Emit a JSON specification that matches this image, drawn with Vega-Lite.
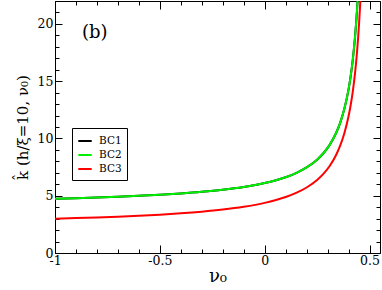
{
  "$schema": "https://vega.github.io/schema/vega-lite/v6.json",
  "width": 325,
  "height": 252,
  "autosize": "none",
  "padding": {"left": 55, "top": 1, "right": 2, "bottom": 37},
  "background": "white",
  "config": {
    "view": {"stroke": "black", "strokeWidth": 1},
    "font": "DejaVu Serif",
    "axis": {"grid": false, "domainColor": "black", "tickColor": "black", "labelColor": "black", "titleColor": "black", "labelFont": "DejaVu Serif", "titleFont": "DejaVu Serif", "titleFontWeight": "normal"}
  },
  "datasets": {
    "curves": [
      {"nu": -1, "k": 4.74, "bc": "BC1"}, {"nu": -0.9, "k": 4.789, "bc": "BC1"}, {"nu": -0.8, "k": 4.845, "bc": "BC1"}, {"nu": -0.7, "k": 4.911, "bc": "BC1"}, {"nu": -0.6, "k": 4.988, "bc": "BC1"}, {"nu": -0.5, "k": 5.081, "bc": "BC1"}, {"nu": -0.4, "k": 5.195, "bc": "BC1"}, {"nu": -0.3, "k": 5.337, "bc": "BC1"}, {"nu": -0.2, "k": 5.519, "bc": "BC1"}, {"nu": -0.1, "k": 5.763, "bc": "BC1"}, {"nu": 0, "k": 6.104, "bc": "BC1"}, {"nu": 0.05, "k": 6.331, "bc": "BC1"}, {"nu": 0.1, "k": 6.616, "bc": "BC1"}, {"nu": 0.15, "k": 6.981, "bc": "BC1"}, {"nu": 0.2, "k": 7.468, "bc": "BC1"}, {"nu": 0.25, "k": 8.15, "bc": "BC1"}, {"nu": 0.28, "k": 8.708, "bc": "BC1"}, {"nu": 0.31, "k": 9.442, "bc": "BC1"}, {"nu": 0.34, "k": 10.452, "bc": "BC1"}, {"nu": 0.36, "k": 11.365, "bc": "BC1"}, {"nu": 0.38, "k": 12.583, "bc": "BC1"}, {"nu": 0.4, "k": 14.288, "bc": "BC1"}, {"nu": 0.41, "k": 15.425, "bc": "BC1"}, {"nu": 0.42, "k": 16.846, "bc": "BC1"}, {"nu": 0.43, "k": 18.672, "bc": "BC1"}, {"nu": 0.44, "k": 21.108, "bc": "BC1"}, {"nu": 0.45, "k": 24.518, "bc": "BC1"}, {"nu": 0.46, "k": 29.633, "bc": "BC1"},
      {"nu": -1, "k": 4.74, "bc": "BC2"}, {"nu": -0.9, "k": 4.789, "bc": "BC2"}, {"nu": -0.8, "k": 4.845, "bc": "BC2"}, {"nu": -0.7, "k": 4.911, "bc": "BC2"}, {"nu": -0.6, "k": 4.988, "bc": "BC2"}, {"nu": -0.5, "k": 5.081, "bc": "BC2"}, {"nu": -0.4, "k": 5.195, "bc": "BC2"}, {"nu": -0.3, "k": 5.337, "bc": "BC2"}, {"nu": -0.2, "k": 5.519, "bc": "BC2"}, {"nu": -0.1, "k": 5.763, "bc": "BC2"}, {"nu": 0, "k": 6.104, "bc": "BC2"}, {"nu": 0.05, "k": 6.331, "bc": "BC2"}, {"nu": 0.1, "k": 6.616, "bc": "BC2"}, {"nu": 0.15, "k": 6.981, "bc": "BC2"}, {"nu": 0.2, "k": 7.468, "bc": "BC2"}, {"nu": 0.25, "k": 8.15, "bc": "BC2"}, {"nu": 0.28, "k": 8.708, "bc": "BC2"}, {"nu": 0.31, "k": 9.442, "bc": "BC2"}, {"nu": 0.34, "k": 10.452, "bc": "BC2"}, {"nu": 0.36, "k": 11.365, "bc": "BC2"}, {"nu": 0.38, "k": 12.583, "bc": "BC2"}, {"nu": 0.4, "k": 14.288, "bc": "BC2"}, {"nu": 0.41, "k": 15.425, "bc": "BC2"}, {"nu": 0.42, "k": 16.846, "bc": "BC2"}, {"nu": 0.43, "k": 18.672, "bc": "BC2"}, {"nu": 0.44, "k": 21.108, "bc": "BC2"}, {"nu": 0.45, "k": 24.518, "bc": "BC2"}, {"nu": 0.46, "k": 29.633, "bc": "BC2"},
      {"nu": -1, "k": 3.0, "bc": "BC3"}, {"nu": -0.9, "k": 3.05, "bc": "BC3"}, {"nu": -0.8, "k": 3.107, "bc": "BC3"}, {"nu": -0.7, "k": 3.174, "bc": "BC3"}, {"nu": -0.6, "k": 3.253, "bc": "BC3"}, {"nu": -0.5, "k": 3.348, "bc": "BC3"}, {"nu": -0.4, "k": 3.463, "bc": "BC3"}, {"nu": -0.3, "k": 3.607, "bc": "BC3"}, {"nu": -0.2, "k": 3.791, "bc": "BC3"}, {"nu": -0.1, "k": 4.036, "bc": "BC3"}, {"nu": 0, "k": 4.376, "bc": "BC3"}, {"nu": 0.05, "k": 4.602, "bc": "BC3"}, {"nu": 0.1, "k": 4.883, "bc": "BC3"}, {"nu": 0.15, "k": 5.242, "bc": "BC3"}, {"nu": 0.2, "k": 5.717, "bc": "BC3"}, {"nu": 0.25, "k": 6.375, "bc": "BC3"}, {"nu": 0.28, "k": 6.907, "bc": "BC3"}, {"nu": 0.31, "k": 7.598, "bc": "BC3"}, {"nu": 0.34, "k": 8.533, "bc": "BC3"}, {"nu": 0.36, "k": 9.365, "bc": "BC3"}, {"nu": 0.38, "k": 10.452, "bc": "BC3"}, {"nu": 0.4, "k": 11.934, "bc": "BC3"}, {"nu": 0.41, "k": 12.898, "bc": "BC3"}, {"nu": 0.42, "k": 14.076, "bc": "BC3"}, {"nu": 0.43, "k": 15.548, "bc": "BC3"}, {"nu": 0.44, "k": 17.441, "bc": "BC3"}, {"nu": 0.45, "k": 19.965, "bc": "BC3"}, {"nu": 0.46, "k": 23.498, "bc": "BC3"}, {"nu": 0.47, "k": 28.8, "bc": "BC3"}
    ],
    "label": [{"nu": -0.81, "k": 19.2, "text": "(b)"}]
  },
  "resolve": {"axis": {"x": "independent", "y": "independent"}},
  "layer": [
    {
      "data": {"name": "curves"},
      "mark": {"type": "line", "strokeWidth": 2, "clip": true, "interpolate": "monotone"},
      "encoding": {
        "x": {"field": "nu", "type": "quantitative", "scale": {"domain": [-1, 0.55], "nice": false, "zero": false},
          "axis": {"orient": "bottom", "title": "ν₀", "titleFontSize": 18, "titlePadding": -3, "labelFontSize": 12.5,
            "values": [-1, -0.9, -0.8, -0.7, -0.6, -0.5, -0.4, -0.3, -0.2, -0.1, 0, 0.1, 0.2, 0.3, 0.4, 0.5],
            "labelExpr": "abs(round(datum.value*10)) % 5 === 0 ? '' + datum.value : ''",
            "tickSize": {"condition": {"test": "abs(round(datum.value*10)) % 5 === 0", "value": -8}, "value": -4},
            "labelPadding": 9, "labelFlush": false, "labelOverlap": false}},
        "y": {"field": "k", "type": "quantitative", "scale": {"domain": [0, 22], "nice": false},
          "axis": {"orient": "left", "title": "k̂ (h/ξ=10, ν₀)", "titleFontSize": 15, "titlePadding": 7, "labelFontSize": 12.5,
            "values": [0, 1, 2, 3, 4, 5, 6, 7, 8, 9, 10, 11, 12, 13, 14, 15, 16, 17, 18, 19, 20, 21, 22],
            "labelExpr": "datum.value % 5 === 0 ? '' + datum.value : ''",
            "tickSize": {"condition": {"test": "datum.value % 5 === 0", "value": -7}, "value": -4},
            "labelPadding": 9, "labelOverlap": false}},
        "color": {"field": "bc", "type": "nominal", "scale": {"domain": ["BC1", "BC2", "BC3"], "range": ["#000000", "#00ee00", "#ff0000"]},
          "legend": {"title": null, "orient": "none", "legendX": 17, "legendY": 127, "strokeColor": "black", "fillColor": "white", "padding": 5,
            "symbolType": "stroke", "symbolStrokeWidth": 2, "symbolSize": 180, "labelFont": "DejaVu Serif", "labelFontSize": 10.5, "rowPadding": 0, "labelOffset": 6, "labelLimit": 60}}
      }
    },
    {
      "data": {"name": "curves"},
      "mark": {"type": "line", "opacity": 0, "clip": true},
      "encoding": {
        "x": {"field": "nu", "type": "quantitative",
          "axis": {"orient": "top", "title": null, "labels": false, "domain": false,
            "values": [-1, -0.9, -0.8, -0.7, -0.6, -0.5, -0.4, -0.3, -0.2, -0.1, 0, 0.1, 0.2, 0.3, 0.4, 0.5],
            "tickSize": {"condition": {"test": "abs(round(datum.value*10)) % 5 === 0", "value": -8}, "value": -4}}},
        "y": {"field": "k", "type": "quantitative",
          "axis": {"orient": "right", "title": null, "labels": false, "domain": false,
            "values": [0, 1, 2, 3, 4, 5, 6, 7, 8, 9, 10, 11, 12, 13, 14, 15, 16, 17, 18, 19, 20, 21, 22],
            "tickSize": {"condition": {"test": "datum.value % 5 === 0", "value": -7}, "value": -4}}},
        "detail": {"field": "bc"}
      }
    },
    {
      "data": {"name": "label"},
      "mark": {"type": "text", "fontSize": 18, "font": "DejaVu Serif", "color": "black"},
      "encoding": {
        "x": {"field": "nu", "type": "quantitative", "axis": null},
        "y": {"field": "k", "type": "quantitative", "axis": null},
        "text": {"field": "text"}
      }
    }
  ]
}
